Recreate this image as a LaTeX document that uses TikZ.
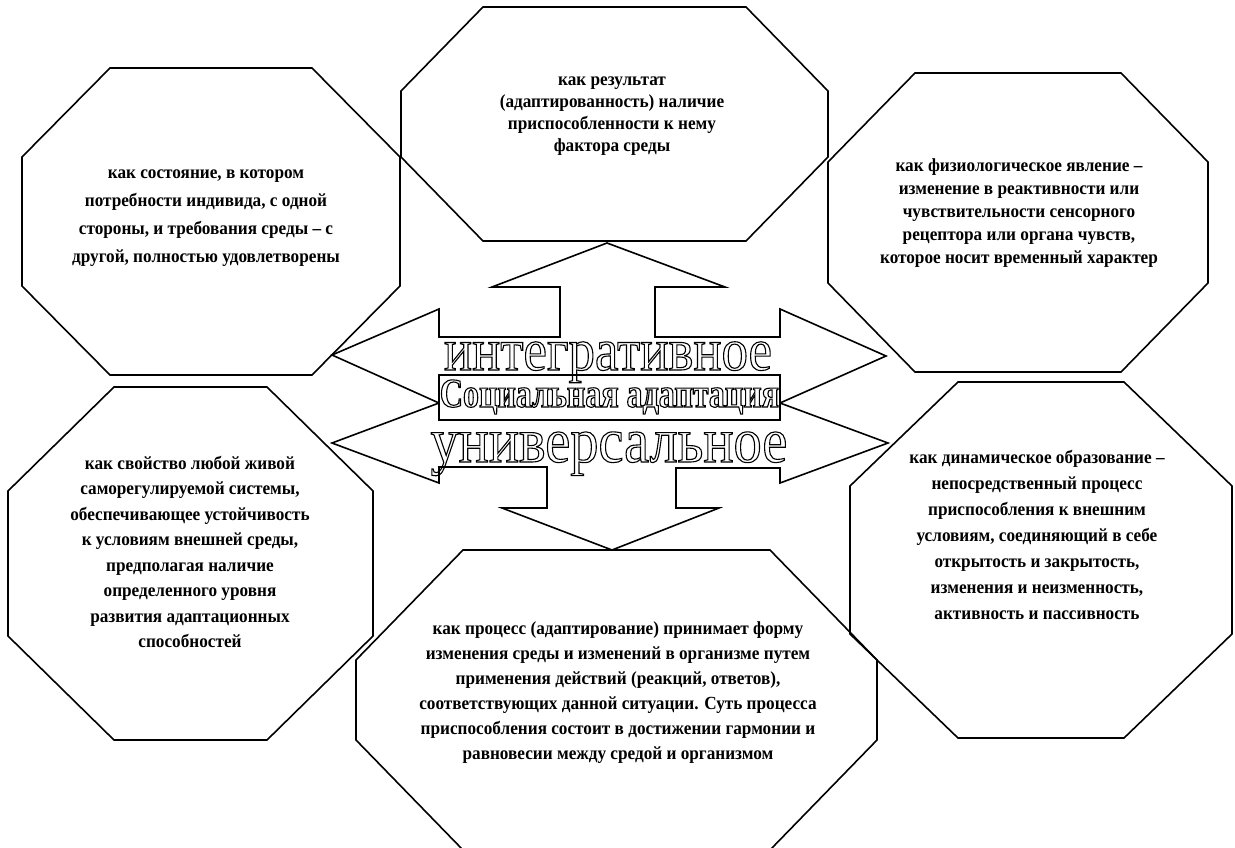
\documentclass[tikz,border=0pt]{standalone}
\usepackage{fontspec}
\setmainfont{Liberation Serif}
\newfontfamily\notefont[FakeStretch=0.93]{Liberation Serif}
\newfontfamily\widefont[FakeStretch=0.88]{Liberation Serif}
\newfontfamily\narrowfont[FakeStretch=0.78]{Liberation Serif}
% hollow letters: stroke the glyph outlines only
\newcommand{\outlined}[1]{\special{pdf:literal direct 1 Tr 1.1 w}#1\special{pdf:literal direct 0 Tr}}

\begin{document}
\begin{tikzpicture}[x=1pt,y=-1pt,
    octa/.style={draw,line width=1.6pt},
    oct text/.style={align=center,font=\notefont\bfseries\fontsize{18.5}{#1}\selectfont},
    hollow/.style={anchor=base,inner sep=0pt}]

  \useasboundingbox (0,0) rectangle (1235,847);

  % octagons
  \foreach \xa/\ya/\xb/\yb/\cx/\cy in {22/68/400/375/88/89, 401/7/828/241/82/84,
      828/73/1208/372/87/89, 8/387/373/740/106/104, 356/550/877/850/107/110,
      850/382/1232/738/108/104} {
    \draw[octa] (\xa+\cx,\ya) -- (\xb-\cx,\ya) -- (\xb,\ya+\cy) -- (\xb,\yb-\cy)
      -- (\xb-\cx,\yb) -- (\xa+\cx,\yb) -- (\xa,\yb-\cy) -- (\xa,\ya+\cy) -- cycle;}

  % arrows
  \draw[line width=1.6pt] (439,337) -- (560,337) -- (560,287) -- (492,287) -- (607,243)
    -- (725,287) -- (655,287) -- (655,337) -- (780,337) -- (780,309) -- (886,356)
    -- (780,403) -- (888,443) -- (780,483) -- (780,468) -- (676,468) -- (676,508)
    -- (719,508) -- (612,550) -- (502,508) -- (547,508) -- (547,467) -- (439,467)
    -- (439,483) -- (332,443) -- (439,403) -- (332,355) -- (439,309) -- cycle;

  % centre
  \node[draw,fill=white,line width=1.4pt,minimum width=341pt,minimum height=45pt,
    inner sep=0pt] (frame) at (609.5,397.5) {};
  \node[hollow,font=\widefont\fontsize{60}{60}\selectfont] (integr) at (608,370)
    {\outlined{интегративное}};
  \node[hollow,font=\narrowfont\bfseries\fontsize{41}{41}\selectfont] (title) at (609.5,407)
    {\outlined{Социальная адаптация}};
  \node[hollow,font=\widefont\fontsize{64}{64}\selectfont] (univ) at (609,462)
    {\outlined{универсальное}};

  \node[oct text=28] (state) at (206,218) {как состояние, в котором\\
    потребности  индивида, с одной\\ стороны, и требования среды – с\\
    другой, полностью удовлетворены};
  \node[oct text=22] (result) at (612,116) {как результат\\
    (адаптированность) наличие\\ приспособленности к нему\\ фактора среды};
  \node[oct text=23] (physio) at (1019,213) {как физиологическое явление –\\
    изменение в реактивности или\\ чувствительности сенсорного\\
    рецептора или органа чувств,\\ которое носит временный характер};
  \node[oct text=25.5] (property) at (190,552) {как свойство любой живой\\
    саморегулируемой системы,\\ обеспечивающее устойчивость\\
    к условиям внешней среды,\\ предполагая наличие\\ определенного уровня\\
    развития адаптационных\\ способностей};
  \node[oct text=25] (process) at (618,693) {как процесс (адаптирование) принимает форму\\
    изменения среды и изменений в организме путем\\
    применения действий (реакций, ответов),\\
    соответствующих данной ситуации. Суть процесса\\
    приспособления состоит в достижении гармонии и\\
    равновесии между средой и организмом};
  \node[oct text=26] (dynamic) at (1037,535) {как динамическое образование –\\
    непосредственный процесс\\ приспособления к внешним\\
    условиям, соединяющий в себе\\ открытость и закрытость,\\
    изменения и неизменность,\\ активность и пассивность};
\end{tikzpicture}
\end{document}
